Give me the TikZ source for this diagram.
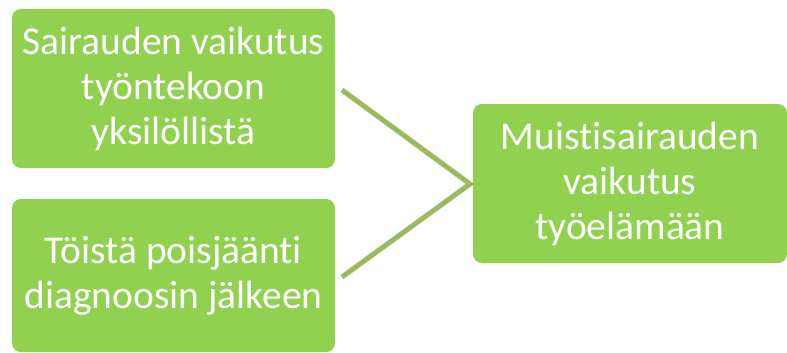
\documentclass[tikz,border=0pt]{standalone}
\usepackage{fontspec}
\setmainfont[Ligatures={NoCommon,NoDiscretionary}]{Carlito}
\definecolor{boxgreen}{HTML}{92D050}
\definecolor{linegreen}{HTML}{9BBB59}
\tikzset{
  gbox/.style={fill=boxgreen, draw=none, rounded corners=9pt, align=center,
    text=white, font=\fontsize{39.5}{45}\selectfont, inner sep=0pt},
  conn/.style={draw=linegreen, line width=4.5pt, line join=miter},
  connshadow/.style={draw=black, opacity=0.18, line width=5.5pt}
}
\begin{document}
\begin{tikzpicture}[x=1pt,y=-1pt]
\useasboundingbox (0,0) rectangle (787,353);
\node[gbox, minimum width=323pt, minimum height=159pt] (a) at (173.5,88.5)
  {Sairauden vaikutus\\työntekoon\\yksilöllistä};
\node[gbox, minimum width=323pt, minimum height=153pt] (b) at (173.5,275.5)
  {Töistä poisjäänti\\diagnoosin jälkeen};
\node[gbox, minimum width=314pt, minimum height=159pt] (c) at (630,183.5)
  {Muistisairauden\\vaikutus\\työelämään};
\coordinate (s1) at (342,90);
\coordinate (s2) at (342,277);
\coordinate (apex) at (470,184);
\draw[connshadow, shift={(2pt,-2pt)}] (s1) -- (apex) -- (s2);
\draw[conn] (s1) -- (apex) -- (s2);
\end{tikzpicture}
\end{document}
